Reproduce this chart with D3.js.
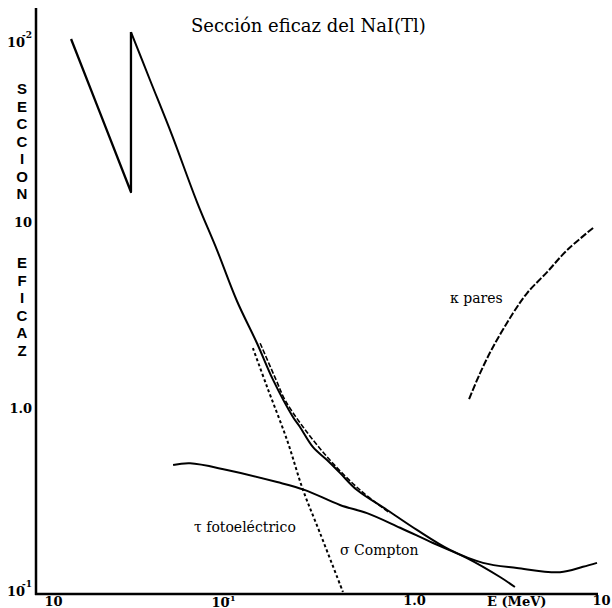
<!DOCTYPE html>
<html>
<head>
<meta charset="utf-8">
<script src="https://cdn.jsdelivr.net/npm/d3@7"></script>
<style>
  body { margin: 0; background: #fff; }
  svg { display: block; background: #fff; }
</style>
</head>
<body>
<div class="container"></div>
<script>
// valores: energia en MeV, seccion eficaz
const energiaBajoK = [0.0154, 0.0220, 0.0322, 0.0322];
const seccionBajoK = [96.4, 38.6, 14.5, 105];

const energiaTotal = [0.0322, 0.0407, 0.0533, 0.0726, 0.0929, 0.1189, 0.152, 0.185, 0.2366, 0.258, 0.303, 0.360, 0.422, 0.521, 0.754, 1.089, 1.637, 2.456, 3.73, 6.34, 8.41, 10.0];
const seccionTotal = [105, 58.0, 29.4, 12.8, 7.06, 3.75, 2.23, 1.42, 0.895, 0.791, 0.616, 0.525, 0.448, 0.362, 0.283, 0.221, 0.1725, 0.147, 0.138, 0.131, 0.140, 0.147];

const energiaSuma = [0.158, 0.192, 0.2147, 0.268, 0.373, 0.541, 0.782];
const seccionSuma = [2.23, 1.42, 1.104, 0.791, 0.525, 0.362, 0.272];

const energiaFoto = [0.1445, 0.172, 0.220, 0.268, 0.330, 0.438];
const seccionFoto = [2.10, 1.30, 0.673, 0.362, 0.213, 0.1025];

const energiaCompton = [0.0541, 0.0667, 0.105, 0.1946, 0.275, 0.422, 0.589, 0.885, 1.327, 2.017, 3.03, 3.64];
const seccionCompton = [0.494, 0.504, 0.464, 0.400, 0.362, 0.301, 0.272, 0.227, 0.188, 0.156, 0.1234, 0.109];

const energiaPares = [2.07, 2.37, 2.78, 3.56, 4.23, 5.41, 6.92, 9.53];
const seccionPares = [1.117, 1.54, 2.13, 3.24, 4.15, 5.38, 7.06, 9.29];

const ticksX = [0.01, 0.1, 1, 10];
const etiquetasX = [["10", ""], ["10", "-1"], ["1.0", ""], ["10", ""]];
const ticksY = [100, 10, 1, 0.1];
const etiquetasY = [["10", "-2"], ["10", ""], ["1.0", ""], ["10", "-1"]];

const w = 612;
const h = 608;

const xScale = d3.scaleLog().domain([0.01, 10]).range([36, 597]);
const yScale = d3.scaleLog().domain([0.1, 100]).range([594, 36]);

const svg = d3.select(".container")
              .append("svg")
              .attr("width", w)
              .attr("height", h);

// titulo
svg.append("text")
   .attr("x", 191)
   .attr("y", 32)
   .attr("font-family", "DejaVu Serif")
   .attr("font-size", 18)
   .text("Sección eficaz del NaI(Tl)");

// ejes
const xAxis = d3.axisBottom(xScale).tickValues(ticksX).tickSize(0).tickPadding(2);
const yAxis = d3.axisLeft(yScale).tickValues(ticksY).tickSize(0).tickPadding(4);

const gx = svg.append("g")
   .attr("transform", "translate(0," + yScale(0.1) + ")")
   .call(xAxis);
const gy = svg.append("g")
   .attr("transform", "translate(" + xScale(0.01) + ",0)")
   .call(yAxis);

gx.select(".domain").remove();
gy.select(".domain").remove();

gx.selectAll("text")
  .attr("font-family", "DejaVu Serif")
  .attr("font-weight", "bold")
  .attr("font-size", 13)
  .attr("fill", "#000")
  .each(function(d, i) {
    const t = d3.select(this).text("");
    t.append("tspan").text(etiquetasX[i][0]);
    if (etiquetasX[i][1]) {
      t.append("tspan").attr("font-size", 8).attr("dx", -3).attr("dy", -6).text(etiquetasX[i][1]);
    }
  });
// el primero queda un poco mas a la derecha
gx.selectAll(".tick").filter((d, i) => i === 0).select("text")
  .attr("text-anchor", "start").attr("x", 8).attr("y", 3);
gx.selectAll(".tick").filter((d, i) => i === 1).select("text").attr("y", 4);
gx.selectAll(".tick").filter((d, i) => i >= 2).select("text").attr("x", 4);

gy.selectAll("text")
  .attr("font-family", "DejaVu Serif")
  .attr("font-weight", "bold")
  .attr("font-size", 13)
  .attr("fill", "#000")
  .each(function(d, i) {
    const t = d3.select(this).text("");
    t.append("tspan").text(etiquetasY[i][0]);
    if (etiquetasY[i][1]) {
      t.append("tspan").attr("font-size", 9).attr("dx", -3).attr("dy", -9).text(etiquetasY[i][1]);
    }
  });
gy.selectAll(".tick").filter((d, i) => i === 0).select("text").attr("y", 6);
gy.selectAll(".tick").filter((d, i) => i === 3).select("text").attr("y", -3);

svg.append("line")
   .attr("x1", xScale(0.01)).attr("x2", xScale(0.01))
   .attr("y1", 8).attr("y2", yScale(0.1) + 1)
   .attr("stroke", "#000").attr("stroke-width", 2.5);
svg.append("line")
   .attr("x1", xScale(0.01) - 1).attr("x2", xScale(10) + 1)
   .attr("y1", yScale(0.1)).attr("y2", yScale(0.1))
   .attr("stroke", "#000").attr("stroke-width", 2.5);

svg.append("text")
   .attr("x", 487)
   .attr("y", 606)
   .attr("font-family", "DejaVu Serif")
   .attr("font-weight", "bold")
   .attr("font-size", 13)
   .text("E (MeV)");

// titulo vertical, letra por letra
const letras1 = "SECCION".split("");
const letras2 = "EFICAZ".split("");
svg.selectAll(".l1").data(letras1).enter().append("text")
   .attr("class", "l1")
   .attr("x", 22).attr("y", (d, i) => 94 + i * 17.5)
   .attr("text-anchor", "middle")
   .attr("font-family", "Liberation Sans").attr("font-weight", "bold").attr("font-size", 15)
   .text(d => d);
svg.selectAll(".l2").data(letras2).enter().append("text")
   .attr("class", "l2")
   .attr("x", 22).attr("y", (d, i) => 268 + i * 17.6)
   .attr("text-anchor", "middle")
   .attr("font-family", "Liberation Sans").attr("font-weight", "bold").attr("font-size", 15)
   .text(d => d);

// curvas
const lineLin = d3.line().x(d => xScale(d[0])).y(d => yScale(d[1]));
const lineSuave = d3.line().x(d => xScale(d[0])).y(d => yScale(d[1])).curve(d3.curveCatmullRom.alpha(0.5));

const curvas = [
  { datos: d3.zip(energiaBajoK, seccionBajoK), gen: lineLin, dash: null, ancho: 2.3 },
  { datos: d3.zip(energiaTotal, seccionTotal), gen: lineSuave, dash: null, ancho: 2 },
  { datos: d3.zip(energiaSuma, seccionSuma), gen: lineSuave, dash: "5,2", ancho: 1.6 },
  { datos: d3.zip(energiaFoto, seccionFoto), gen: lineSuave, dash: "3,2.5", ancho: 2 },
  { datos: d3.zip(energiaCompton, seccionCompton), gen: lineSuave, dash: null, ancho: 2 },
  { datos: d3.zip(energiaPares, seccionPares), gen: lineSuave, dash: "7,2", ancho: 2 }
];

svg.selectAll(".curva")
   .data(curvas)
   .enter()
   .append("path")
   .attr("class", "curva")
   .attr("d", d => d.gen(d.datos))
   .attr("fill", "none")
   .attr("stroke", "#000")
   .attr("stroke-width", d => d.ancho)
   .attr("stroke-dasharray", d => d.dash)
   .attr("stroke-linejoin", "round");

// rotulos dentro del grafico
const rotulos = [
  { x: 450, y: 303, t: "κ  pares" },
  { x: 194, y: 532, t: "τ fotoeléctrico" },
  { x: 340, y: 555, t: "σ Compton" }
];
svg.selectAll(".rotulo")
   .data(rotulos)
   .enter()
   .append("text")
   .attr("class", "rotulo")
   .attr("x", d => d.x)
   .attr("y", d => d.y)
   .attr("font-family", "DejaVu Serif")
   .attr("font-size", 14)
   .text(d => d.t);
</script>
</body>
</html>
